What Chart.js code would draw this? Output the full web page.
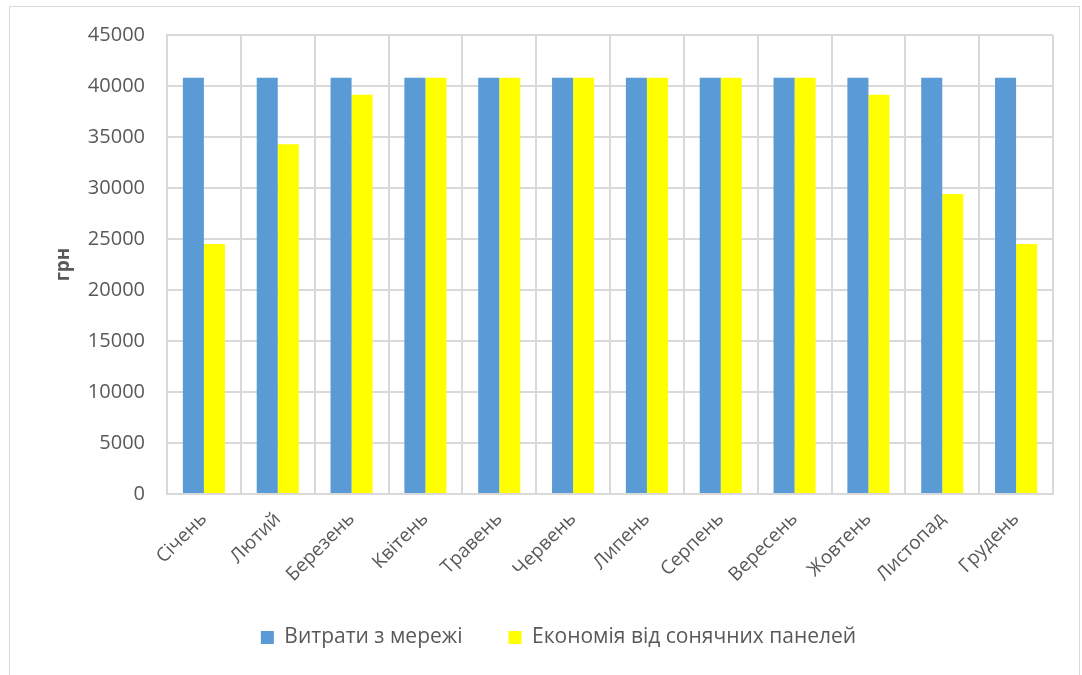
<!DOCTYPE html>
<html>
<head>
<meta charset="utf-8">
<script src="https://cdn.jsdelivr.net/npm/chart.js@4"></script>
<style>
  html, body { margin: 0; padding: 0; background: #fff; }
  #wrap { position: relative; width: 1082px; height: 675px; }
  #frame { position: absolute; left: 9px; top: 6px; width: 1071px; height: 680px; border: 1.5px solid #d9d9d9; box-sizing: border-box; }
  #graphique { position: absolute; left: 0; top: 0; }
</style>
</head>
<body>
<div id="wrap">
  <div id="frame"></div>
  <canvas id="graphique" width="1082" height="675"></canvas>
</div>
<script>
const months = ['Січень', 'Лютий', 'Березень', 'Квітень', 'Травень', 'Червень', 'Липень', 'Серпень', 'Вересень', 'Жовтень', 'Листопад', 'Грудень'];
const gridCost = [40800, 40800, 40800, 40800, 40800, 40800, 40800, 40800, 40800, 40800, 40800, 40800];
const solarSaving = [24500, 34300, 39150, 40800, 40800, 40800, 40800, 40800, 40800, 39150, 29400, 24500];
const yTicks = [0, 5000, 10000, 15000, 20000, 25000, 30000, 35000, 40000, 45000];

const ctx = document.getElementById('graphique');
const FONT = 'Open Sans';
const GREY = '#595959';

// decale la legende un peu vers la droite, comme dans Excel
const legendShift = {
   id: 'legendShift',
   afterLayout(chart) {
      if (chart.legend) {
         chart.legend.left += 32;
         chart.legend.right += 32;
      }
   }
};

const myChart = new Chart(ctx, {
   type: 'bar',
   data: {
      labels: months,
      datasets: [{
         label: 'Витрати з мережі',
         data: gridCost,
         backgroundColor: '#5B9BD5',
         categoryPercentage: 0.57,
         barPercentage: 1
      }, {
         label: 'Економія від сонячних панелей',
         data: solarSaving,
         backgroundColor: '#FFFF00',
         categoryPercentage: 0.57,
         barPercentage: 1
      }]
   },
   options: {
      responsive: false,
      animation: false,
      layout: {
         padding: { left: 0, top: 35, right: 29, bottom: 17 }
      },
      scales: {
         x: {
            grid: { color: '#d9d9d9', lineWidth: 2, drawTicks: false },
            border: { color: '#d9d9d9', width: 2 },
            ticks: {
               color: GREY,
               font: { family: FONT, size: 19 },
               minRotation: 45,
               maxRotation: 45,
               padding: 14
            },
            afterFit: scale => { scale.height = 87; }
         },
         y: {
            min: 0,
            max: 45000,
            afterBuildTicks: scale => { scale.ticks = yTicks.map(v => ({ value: v })); },
            grid: { color: '#d9d9d9', lineWidth: 2, drawTicks: false },
            border: { color: '#d9d9d9', width: 2 },
            ticks: {
               color: GREY,
               font: { family: FONT, size: 20 },
               padding: 22,
               callback: v => String(v)
            },
            title: {
               display: true,
               text: 'грн',
               color: GREY,
               font: { family: FONT, size: 19, weight: 'bold' },
               padding: { top: 52, bottom: 0 }
            },
            afterFit: scale => { scale.width = 167; }
         }
      },
      plugins: {
         legend: {
            position: 'bottom',
            labels: {
               color: GREY,
               font: { family: FONT, size: 21 },
               boxWidth: 13,
               boxHeight: 13,
               padding: 46
            }
         },
         tooltip: { enabled: false }
      }
   },
   plugins: [legendShift]
});
</script>
</body>
</html>
